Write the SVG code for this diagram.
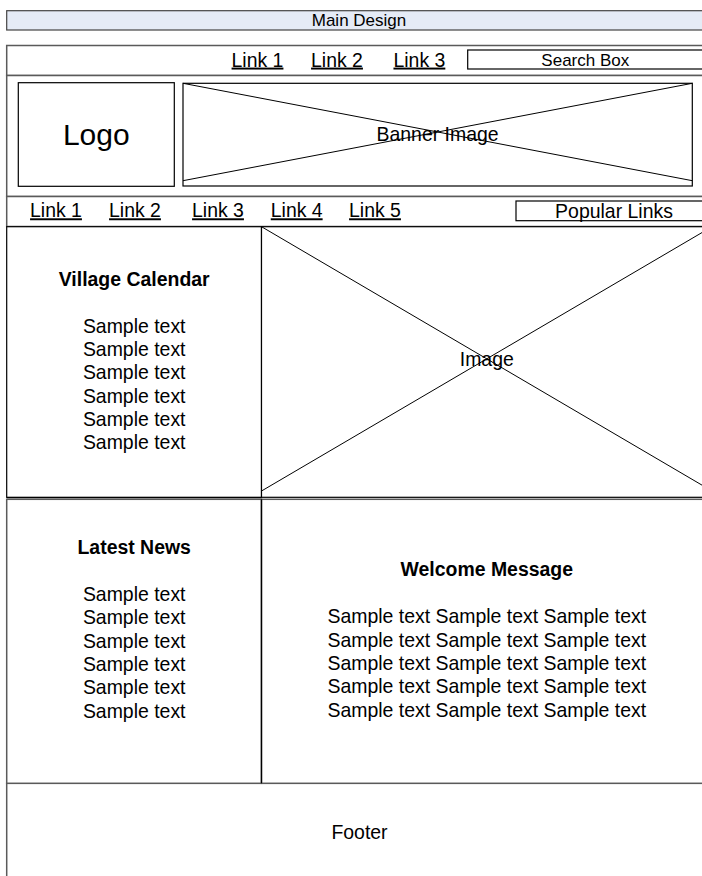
<svg xmlns="http://www.w3.org/2000/svg" width="702" height="876" viewBox="0 0 702 876">
<style>
text{font-family:"Liberation Sans",Arial,sans-serif;fill:#000;text-anchor:middle}
.t{font-size:19.46px}
.s{font-size:17px}
.b{font-size:19.46px;font-weight:bold}
.u{text-decoration:underline}
.c{fill:#fff;stroke:#5a5a5a;stroke-width:1.5}
.k{fill:#fff;stroke:#000;stroke-width:1.2}
.x{stroke:#000;stroke-width:1;fill:none}
</style>
<rect width="702" height="876" fill="#fff"/>
<g id="title">
<rect x="6.7" y="10.7" width="705" height="19.3" fill="#e5ebf6" stroke="#444" stroke-width="1.2"/>
<text class="s" x="359" y="26.3">Main Design</text>
</g>
<g id="top-bar">
<rect class="c" x="6.7" y="45.5" width="710" height="30"/>
<text class="t u" x="257.5" y="66.6">Link 1</text>
<text class="t u" x="337" y="66.6">Link 2</text>
<text class="t u" x="419.4" y="66.6">Link 3</text>
</g>
<g id="search-box">
<rect class="k" x="467.7" y="50" width="240" height="19"/>
<text class="s" x="585.3" y="65.5">Search Box</text>
</g>
<g id="header">
<rect class="c" x="6.7" y="75.5" width="710" height="121"/>
</g>
<g id="logo">
<rect class="k" x="18.3" y="82.7" width="156" height="103.6"/>
<text x="96.3" y="145.3" style="font-size:30px">Logo</text>
</g>
<g id="banner">
<rect class="k" x="183" y="83.3" width="509.3" height="102.7"/>
<line class="x" x1="183" y1="83.3" x2="692.3" y2="180.7"/>
<line class="x" x1="183" y1="180.7" x2="692.3" y2="83.3"/>
<text class="t" x="437.6" y="141.3">Banner Image</text>
</g>
<g id="nav">
<rect class="c" x="6.7" y="196.5" width="710" height="30"/>
<text class="t u" x="56" y="217.3">Link 1</text>
<text class="t u" x="135" y="217.3">Link 2</text>
<text class="t u" x="218" y="217.3">Link 3</text>
<text class="t u" x="296.7" y="217.3">Link 4</text>
<text class="t u" x="375" y="217.3">Link 5</text>
</g>
<g id="popular-links">
<rect class="k" x="516" y="201" width="200" height="19.7"/>
<text class="t" x="614" y="217.6">Popular Links</text>
</g>
<g id="footer">
<rect class="c" x="6.7" y="783.3" width="710" height="100"/>
<text class="t" x="359.5" y="838.6">Footer</text>
</g>
<g id="calendar">
<rect class="k" x="6.7" y="226.7" width="254.8" height="270.6"/>
<text class="b" x="134.2" y="286.4">Village Calendar</text>
<text class="t" x="134.2" y="332.6">Sample text</text>
<text class="t" x="134.2" y="355.9">Sample text</text>
<text class="t" x="134.2" y="379.3">Sample text</text>
<text class="t" x="134.2" y="402.6">Sample text</text>
<text class="t" x="134.2" y="426">Sample text</text>
<text class="t" x="134.2" y="449.3">Sample text</text>
</g>
<g id="image">
<rect class="k" x="261.5" y="226.7" width="455" height="270.6"/>
<line class="x" x1="261.5" y1="226.7" x2="712" y2="491"/>
<line class="x" x1="261.5" y1="491" x2="712" y2="226.7"/>
<text class="t" x="486.8" y="366">Image</text>
</g>
<g id="news">
<rect class="c" x="6.7" y="499.3" width="254.8" height="284"/>
<line x1="6.7" y1="497.6" x2="261.5" y2="497.6" stroke="#000" stroke-width="1.2"/>
<text class="b" x="134.2" y="553.5">Latest News</text>
<text class="t" x="134.2" y="601">Sample text</text>
<text class="t" x="134.2" y="624.4">Sample text</text>
<text class="t" x="134.2" y="647.7">Sample text</text>
<text class="t" x="134.2" y="671">Sample text</text>
<text class="t" x="134.2" y="694.4">Sample text</text>
<text class="t" x="134.2" y="717.7">Sample text</text>
</g>
<g id="welcome">
<rect class="c" x="261.5" y="499.3" width="455" height="284"/>
<line x1="261.5" y1="499.3" x2="261.5" y2="783.3" stroke="#000" stroke-width="1.2"/>
<text class="b" x="486.8" y="576.3">Welcome Message</text>
<text class="t" x="486.8" y="623.3">Sample text Sample text Sample text</text>
<text class="t" x="486.8" y="646.7">Sample text Sample text Sample text</text>
<text class="t" x="486.8" y="670">Sample text Sample text Sample text</text>
<text class="t" x="486.8" y="693.4">Sample text Sample text Sample text</text>
<text class="t" x="486.8" y="716.7">Sample text Sample text Sample text</text>
</g>
<g id="connectors"></g>
</svg>
